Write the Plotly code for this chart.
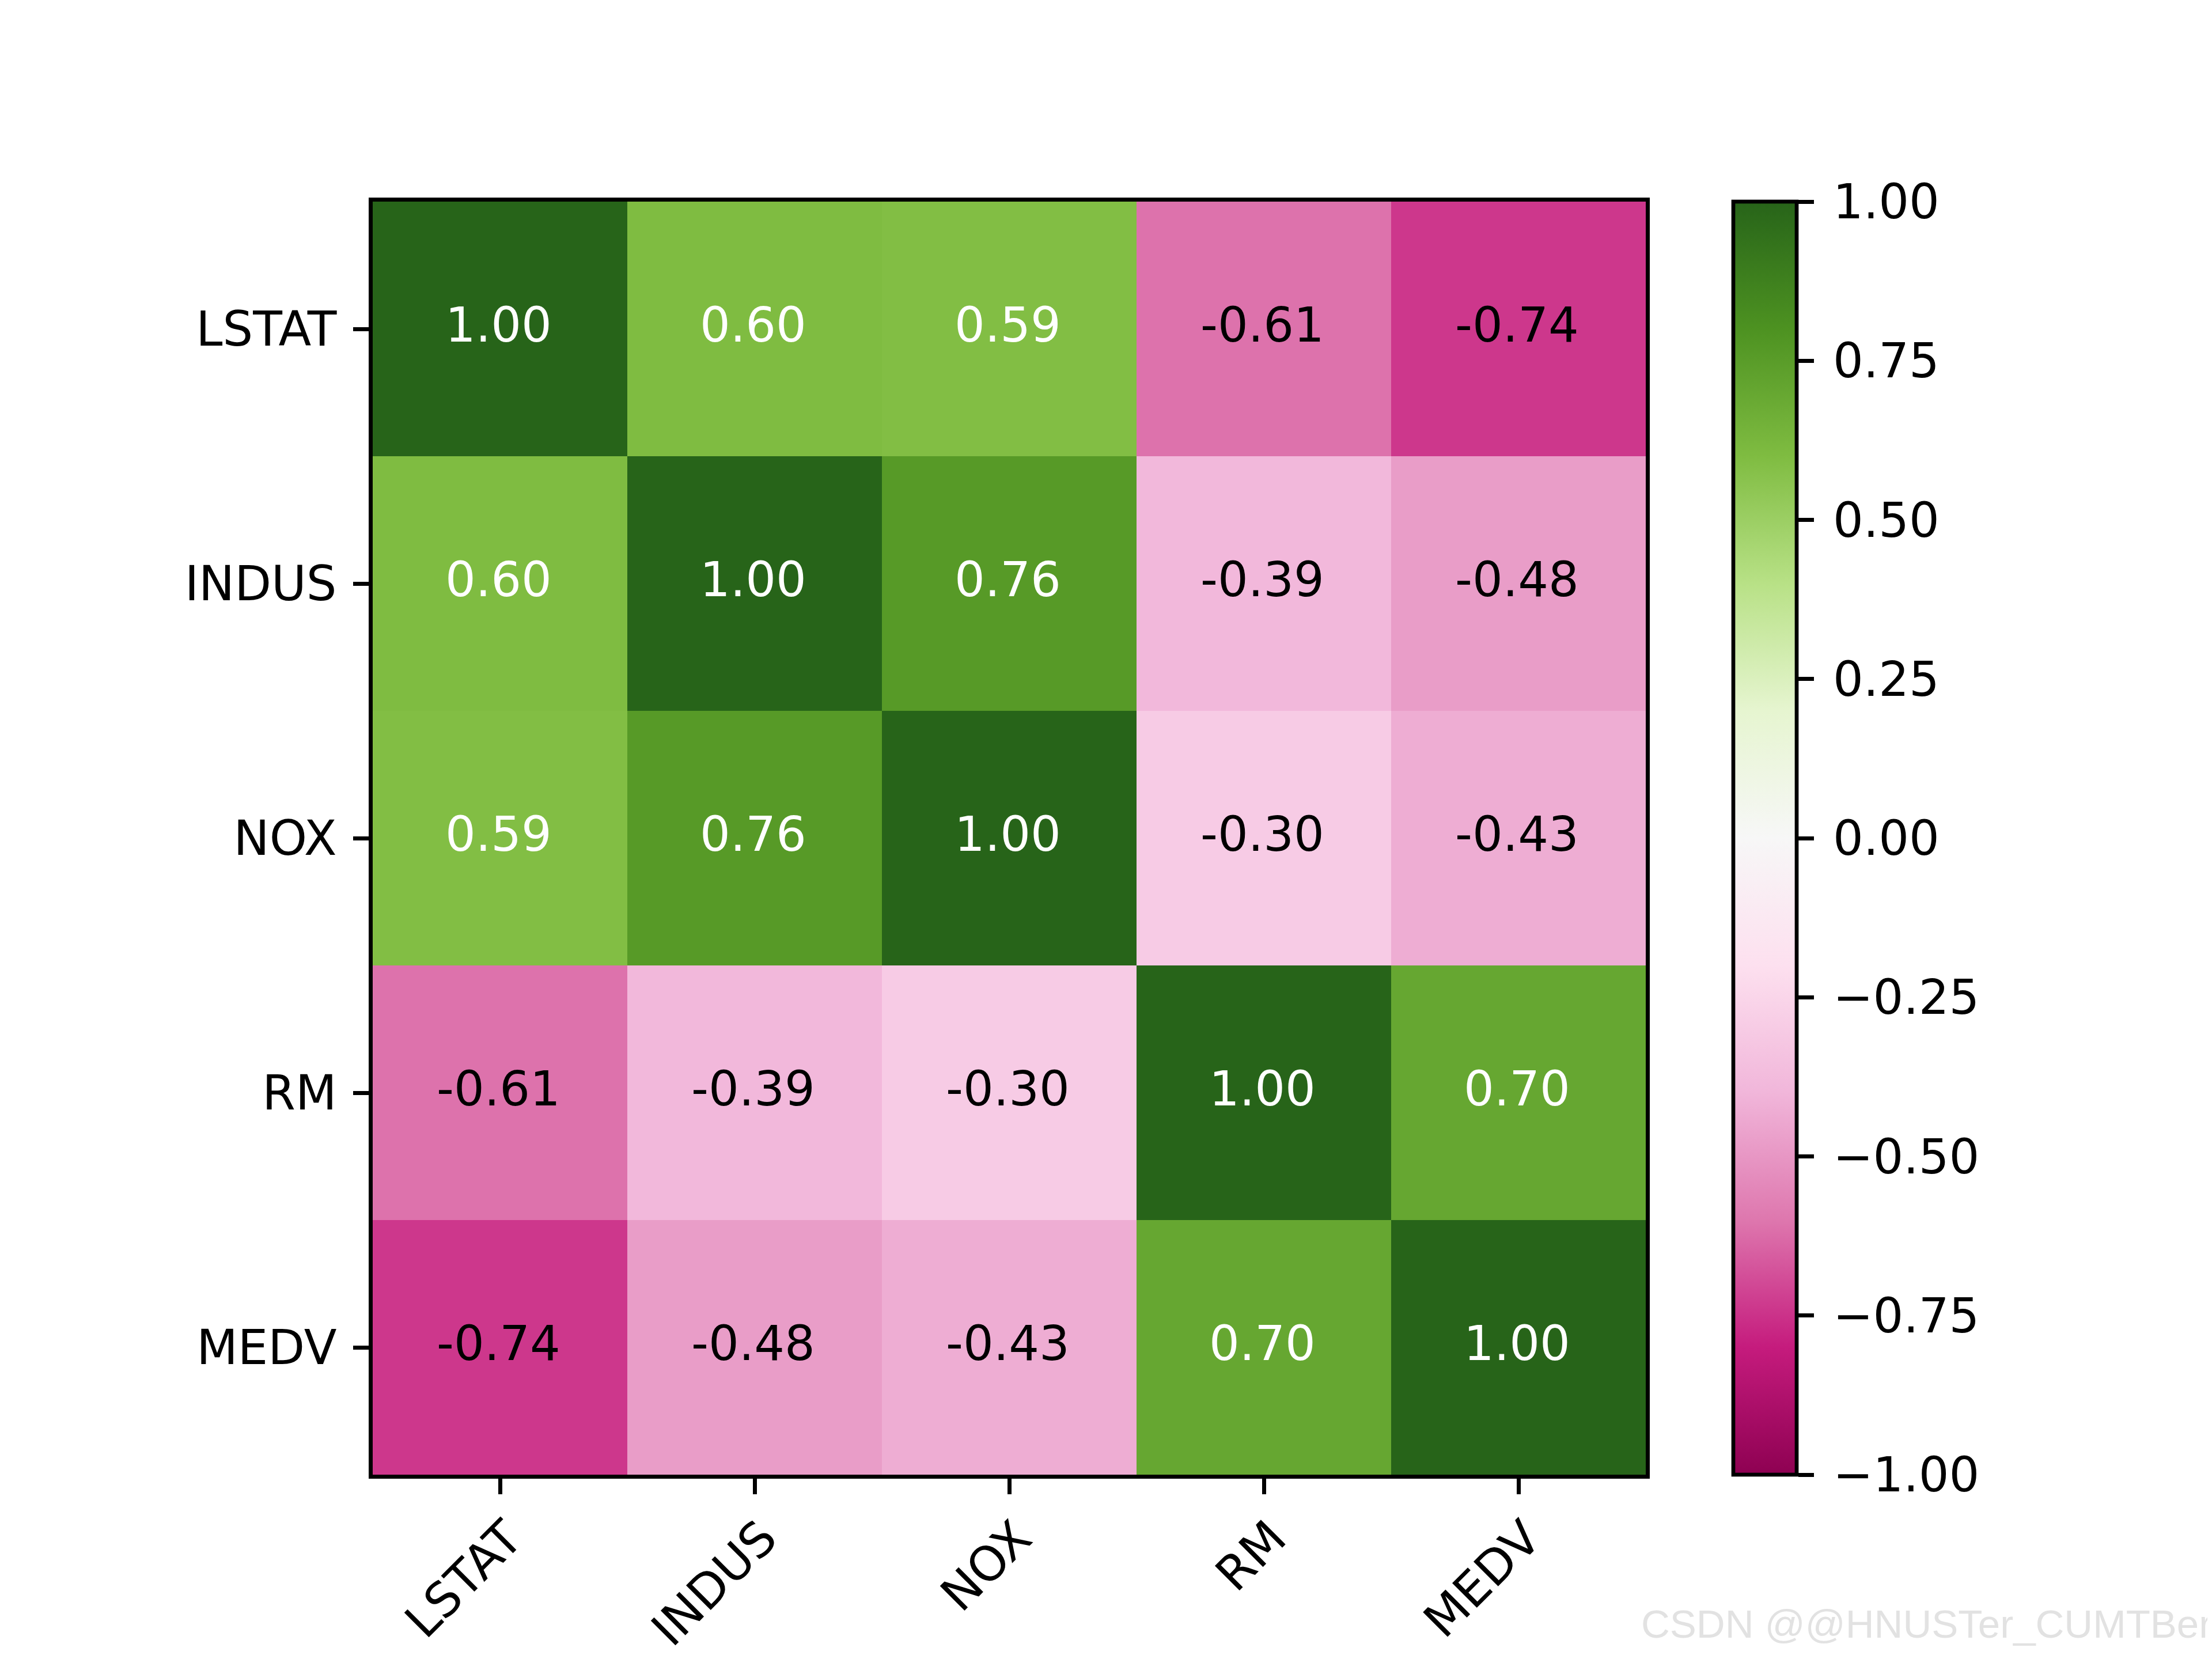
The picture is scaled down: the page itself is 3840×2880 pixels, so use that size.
import plotly.graph_objects as go
import plotly.express as px

# correlation matrix
features = ['LSTAT', 'INDUS', 'NOX', 'RM', 'MEDV']
corr = [
    [1.00, 0.60, 0.59, -0.61, -0.74],
    [0.60, 1.00, 0.76, -0.39, -0.48],
    [0.59, 0.76, 1.00, -0.30, -0.43],
    [-0.61, -0.39, -0.30, 1.00, 0.70],
    [-0.74, -0.48, -0.43, 0.70, 1.00],
]
cbar_vals = [-1.0, -0.75, -0.5, -0.25, 0.0, 0.25, 0.5, 0.75, 1.0]
cbar_text = ['\u2009%.2f' % v if v >= 0 else '\u2009\u2212%.2f' % -v for v in cbar_vals]

# matplotlib-ish sizes at 600 dpi; page body has an 8px margin
OFF = 8
W, H = 3840 - OFF, 2880 - OFF
FS = 83
LW = 6.7
TL = 27
ML, MR, MT, MB = 647 - OFF, 983, 350 - OFF, 320

heat = go.Heatmap(
    z=corr, x=features, y=features,
    colorscale=px.colors.diverging.PiYG,
    zmin=-1, zmax=1,
    hoverinfo='skip',
    colorbar=dict(
        x=(3009 - OFF - ML) / (W - ML - MR), xanchor='left', xref='paper',
        y=0.5, yanchor='middle', len=1, lenmode='fraction',
        thickness=110, thicknessmode='pixels',
        outlinewidth=LW, outlinecolor='black',
        ticks='outside', ticklen=TL, tickwidth=LW, tickcolor='black',
        tickvals=cbar_vals, ticktext=cbar_text,
        tickfont=dict(size=FS, color='black'),
        xpad=0, ypad=0,
    ),
)

fig = go.Figure(heat)

annots = []
for i, row in enumerate(corr):
    for j, v in enumerate(row):
        annots.append(dict(
            x=features[j], y=features[i], xref='x', yref='y',
            text='%.2f' % v, showarrow=False, xshift=-3, yshift=7,
            font=dict(size=FS, color='white' if v > 0.5 else 'black'),
        ))

# watermark
annots.append(dict(
    x=1, y=0, xref='paper', yref='paper',
    xanchor='right', yanchor='bottom',
    xshift=MR + 2, yshift=-300,
    text='CSDN @@HNUSTer_CUMTBer', showarrow=False,
    font=dict(family='Liberation Sans', size=69, color='#e2e2e2'),
))

axis_style = dict(
    showline=True, mirror=True, linecolor='black', linewidth=LW,
    ticks='outside', ticklen=TL, tickwidth=LW, tickcolor='black',
    tickfont=dict(size=FS, color='black'),
    showgrid=False, zeroline=False, automargin=False,
)

fig.update_layout(
    width=W, height=H,
    margin=dict(l=ML, r=MR, t=MT, b=MB, pad=0, autoexpand=False),
    paper_bgcolor='white', plot_bgcolor='white',
    font=dict(family='DejaVu Sans', size=FS, color='black'),
    annotations=annots,
)
fig.update_xaxes(tickangle=-45, ticklabelstandoff=-6, ticklabelshift=14, **axis_style)
fig.update_yaxes(autorange='reversed', ticklabelstandoff=12, **axis_style)

fig.write_html('out.html')
